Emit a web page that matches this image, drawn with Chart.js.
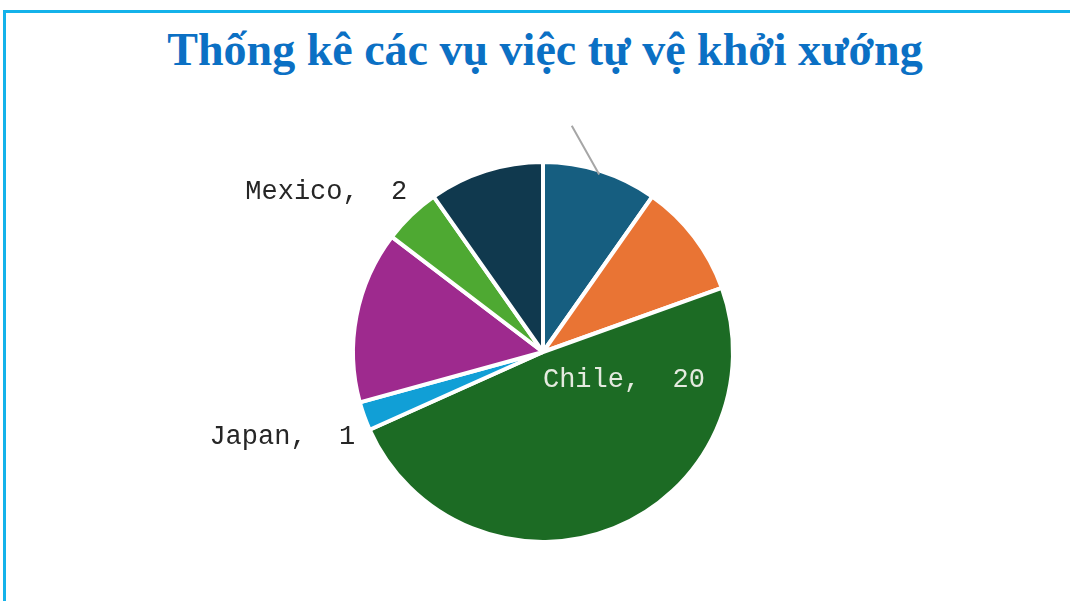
<!DOCTYPE html>
<html>
<head>
<meta charset="utf-8">
<script src="https://cdn.jsdelivr.net/npm/chart.js@4"></script>
<style>
  body { margin: 0; background: #fff; width: 1070px; height: 601px; overflow: hidden; position: relative; }
  .khung { position: absolute; left: 3px; top: 10px; right: 0; bottom: 0; border-top: 3px solid #14b2ea; border-left: 3px solid #14b2ea; }
  .tieude { position: absolute; left: 0; width: 1090px; top: 22px; text-align: center;
    font-family: "Liberation Serif", "Times New Roman", serif; font-weight: bold; font-size: 46px; color: #0b70c4; line-height: 1.2; }
  #bieuDo { position: absolute; left: 0; top: 0; }
</style>
</head>
<body>
<div class="khung"></div>
<div class="tieude">Thống kê các vụ việc tự vệ khởi xướng</div>
<canvas id="bieuDo" width="1070" height="601"></canvas>
<script>
const quocGia = ['Peru', 'Argentina', 'Chile', 'Japan', 'Colombia', 'Mexico', 'Ecuador'];
const soVu = [4, 4, 20, 1, 6, 2, 4];
const mauSac = ['#165e80', '#e97434', '#1c6b24', '#119fd6', '#9e2a8e', '#4ea932', '#10394e'];

// nhãn chỉ hiện cho vài lát, vị trí tính theo tâm và bán kính của lát
const nhanLat = {
  2: { kieu: 'trong', dx: 0.426, dy: 0.147, mau: '#e4eadf', canh: 'center' },
  3: { kieu: 'ngoai', k: 1.05, mau: '#262626', canh: 'right', lechY: 17 },
  5: { kieu: 'ngoai', k: 1.03, mau: '#262626', canh: 'right', lechY: -19 }
};

const veNhan = {
  id: 'veNhan',
  afterDatasetsDraw(chart) {
    const ctx = chart.ctx;
    const meta = chart.getDatasetMeta(0);
    ctx.save();
    ctx.font = '27px "Liberation Mono", "Courier New", monospace';
    ctx.textBaseline = 'middle';
    meta.data.forEach((arc, i) => {
      const p = arc.getProps(['x', 'y', 'startAngle', 'endAngle', 'outerRadius'], true);
      const goc = (p.startAngle + p.endAngle) / 2;
      if (i === 0) {
        // đường dẫn nhãn của lát đầu tiên
        const goc2 = goc - 0.18;
        ctx.strokeStyle = '#a6a6a6';
        ctx.lineWidth = 2;
        ctx.beginPath();
        ctx.moveTo(p.x + Math.cos(goc) * p.outerRadius * 0.98, p.y + Math.sin(goc) * p.outerRadius * 0.98);
        ctx.lineTo(p.x + Math.cos(goc2) * p.outerRadius * 1.2, p.y + Math.sin(goc2) * p.outerRadius * 1.2);
        ctx.stroke();
      }
      const cfg = nhanLat[i];
      if (!cfg) return;
      const chu = quocGia[i] + ',  ' + soVu[i];
      let x, y;
      if (cfg.kieu === 'trong') {
        x = p.x + cfg.dx * p.outerRadius;
        y = p.y + cfg.dy * p.outerRadius;
      } else {
        x = p.x + Math.cos(goc) * p.outerRadius * cfg.k;
        y = p.y + Math.sin(goc) * p.outerRadius * cfg.k + cfg.lechY;
      }
      ctx.fillStyle = cfg.mau;
      ctx.textAlign = cfg.canh;
      ctx.fillText(chu, x, y);
    });
    ctx.restore();
  }
};

new Chart(document.getElementById('bieuDo'), {
  type: 'pie',
  data: {
    labels: quocGia,
    datasets: [{
      data: soVu,
      backgroundColor: mauSac,
      borderColor: '#ffffff',
      borderWidth: 4
    }]
  },
  options: {
    responsive: false,
    animation: false,
    layout: { padding: { left: 351, right: 335, top: 160, bottom: 57 } },
    plugins: {
      legend: { display: false },
      tooltip: { enabled: false }
    }
  },
  plugins: [veNhan]
});
</script>
</body>
</html>
